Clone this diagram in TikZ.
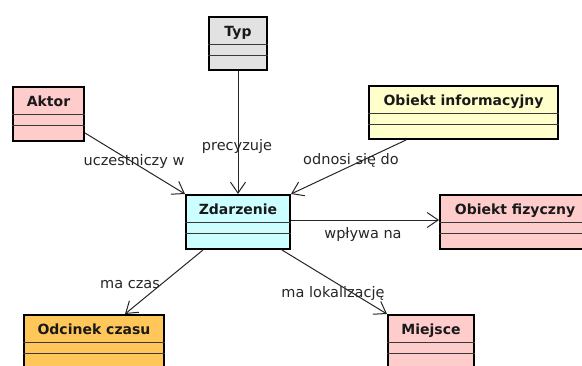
\documentclass[tikz,border=0pt]{standalone}
\usepackage{fontspec}
\setmainfont{DejaVu Sans}
\usetikzlibrary{arrows.meta,calc}
\definecolor{cgrey}{HTML}{E2E2E2}
\definecolor{cpink}{HTML}{FFCCCC}
\definecolor{cyel}{HTML}{FFFFCC}
\definecolor{ccyan}{HTML}{CCFFFF}
\definecolor{corange}{HTML}{FFC65A}
\definecolor{cline}{HTML}{383838}
\tikzset{
  cls/.style={draw=black, line width=2pt, inner sep=0pt, anchor=north west},
  ttl/.style={font=\fontsize{14}{16}\selectfont\bfseries, text=black!90, inner sep=0pt, anchor=base},
  sep/.style={draw=cline, line width=1pt},
  conn/.style={draw=black!85, line width=1pt, -{Straight Barb[length=11pt,width=15pt,line width=1pt]}},
  lbl/.style={font=\fontsize{14.5}{16}\selectfont, text=black!85, inner sep=0pt}
}
\newcommand{\umlbox}[7]{%
  % #1 name, #2 x, #3 y, #4 width, #5 height, #6 fill, #7 title
  \node[cls, fill=#6, minimum width=#4, minimum height=#5] (#1) at (#2,#3) {};
  \node[ttl] (#1-t) at ($(#1.north)+(0,20.5)$) {#7};
  \draw[sep] ($(#1.north west)+(0,28)$) -- ($(#1.north east)+(0,28)$);
  \draw[sep] ($(#1.north west)+(0,39)$) -- ($(#1.north east)+(0,39)$);
}
\begin{document}
\begin{tikzpicture}[x=1pt,y=-1pt]
\useasboundingbox (0,0) rectangle (582,365);
\clip (0,0) rectangle (582,365);
\fill[white] (0,0) rectangle (582,365);
\umlbox{typ}{208}{16}{58}{53}{cgrey}{Typ}
\umlbox{aktor}{12}{86}{71}{54}{cpink}{Aktor}
\umlbox{oinf}{368}{85}{189}{53}{cyel}{Obiekt informacyjny}
\umlbox{zd}{185}{194}{104}{54}{ccyan}{Zdarzenie}
\umlbox{ofiz}{439}{194}{150}{54}{cpink}{Obiekt fizyczny}
\umlbox{odc}{23}{314}{140}{60}{corange}{Odcinek czasu}
\umlbox{miej}{387}{314}{86}{60}{cpink}{Miejsce}

\coordinate (aS) at (83,133);
\draw[conn] (aktor.east |- aS) -- (zd.north west);
\draw[conn] (typ.south) -- (typ.south |- zd.north);
\coordinate (oS) at (406,138);
\draw[conn] (oS |- oinf.south) -- (zd.north east);
\coordinate (zE) at (289,220);
\draw[conn] (zd.east |- zE) -- (ofiz.west |- zE);
\coordinate (zS1) at (203,248);
\coordinate (oT) at (125,314);
\draw[conn] (zS1 |- zd.south) -- (oT |- odc.north);
\coordinate (zS2) at (282,248);
\draw[conn] (zS2 |- zd.south) -- (miej.north west);

\node[lbl] (l1) at (134,161) {uczestniczy w};
\node[lbl] (l2) at (237,146) {precyzuje};
\node[lbl] (l3) at (351,160) {odnosi się do};
\node[lbl] (l4) at (363,234) {wpływa na};
\node[lbl] (l5) at (130,285) {ma czas};
\node[lbl] (l6) at (333,293) {ma lokalizację};
\end{tikzpicture}
\end{document}
